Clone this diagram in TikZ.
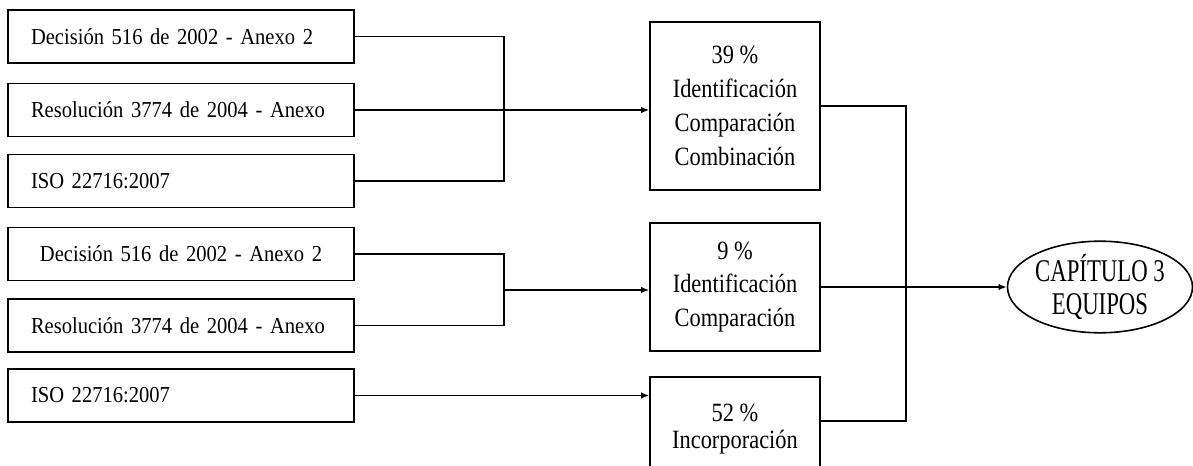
\documentclass[tikz,border=0pt]{standalone}
\usepackage{fontspec}
\setmainfont{Liberation Serif}[FakeStretch=0.9]
\newfontfamily\cajafont{Liberation Serif}[FakeStretch=0.85]
\newfontfamily\capfont{Liberation Serif}[FakeStretch=0.72]
\usetikzlibrary{arrows.meta, positioning, shapes.geometric}

\begin{document}
\begin{tikzpicture}[
    norma/.style={draw, line width=0.9pt, minimum height=1.06cm, text width=6cm, inner xsep=0.46cm, align=left, font=\fontsize{13}{19}\selectfont},
    resultado/.style={draw, line width=0.9pt, minimum width=3.4cm, align=center, font=\cajafont\fontsize{15}{19.3}\selectfont},
    linea/.style={line width=0.9pt},
    flecha/.style={line width=0.9pt, -{Latex[length=1.6mm,width=1.3mm]}}
]
    \useasboundingbox (0,0) rectangle (23.86,-9.32);

    % Normas de entrada
    \node[norma] (n1) at (3.62,-0.73) {Decisión 516 de 2002 - Anexo 2};
    \node[norma] (n2) at (3.62,-2.20) {Resolución 3774 de 2004 - Anexo};
    \node[norma] (n3) at (3.62,-3.62) {ISO 22716:2007};
    \node[norma, align=center] (n4) at (3.62,-5.08) {Decisión 516 de 2002 - Anexo 2};
    \node[norma] (n5) at (3.62,-6.51) {Resolución 3774 de 2004 - Anexo};
    \node[norma] (n6) at (3.62,-7.91) {ISO 22716:2007};

    % Porcentajes
    \node[resultado, minimum height=3.36cm] (m1) at (14.7,-2.12) {39 \%\\Identificación\\Comparación\\Combinación};
    \node[resultado, minimum height=2.56cm] (m2) at (14.7,-5.74) {9 \%\\Identificación\\Comparación};
    \node[resultado, minimum height=2.08cm, font=\cajafont\fontsize{15}{15}\selectfont] (m3) at (14.7,-8.58) {52 \%\\Incorporación};

    % Capitulo
    \node[ellipse, draw, line width=0.9pt, minimum width=3.7cm, minimum height=1.74cm, inner sep=0pt, align=center, font=\capfont\fontsize{18}{18.5}\selectfont] (cap) at (22.0,-5.74) {CAPÍTULO 3\\EQUIPOS};

    % Uniones
    \coordinate (j1) at (10.08,-2.20);
    \coordinate (j2) at (10.08,-5.80);
    \coordinate (k) at (18.12,-2.12);

    \draw[linea] (n1.east) -| (j1);
    \draw[linea] (n3.east) -| (j1);
    \draw[linea] (n2.east) -- (j1);
    \draw[flecha] (j1) -- (j1 -| m1.west);

    \draw[linea] (n4.east) -| (j2);
    \draw[linea] (n5.east) -| (j2);
    \draw[flecha] (j2) -- (j2 -| m2.west);

    \draw[flecha] (n6.east) -- (n6.east -| m3.west);

    \draw[linea] (m1.east) -- (m1.east -| k) |- ([yshift=0.16cm]m3.east);
    \draw[flecha] (m2.east) -- (cap.west);
\end{tikzpicture}
\end{document}
